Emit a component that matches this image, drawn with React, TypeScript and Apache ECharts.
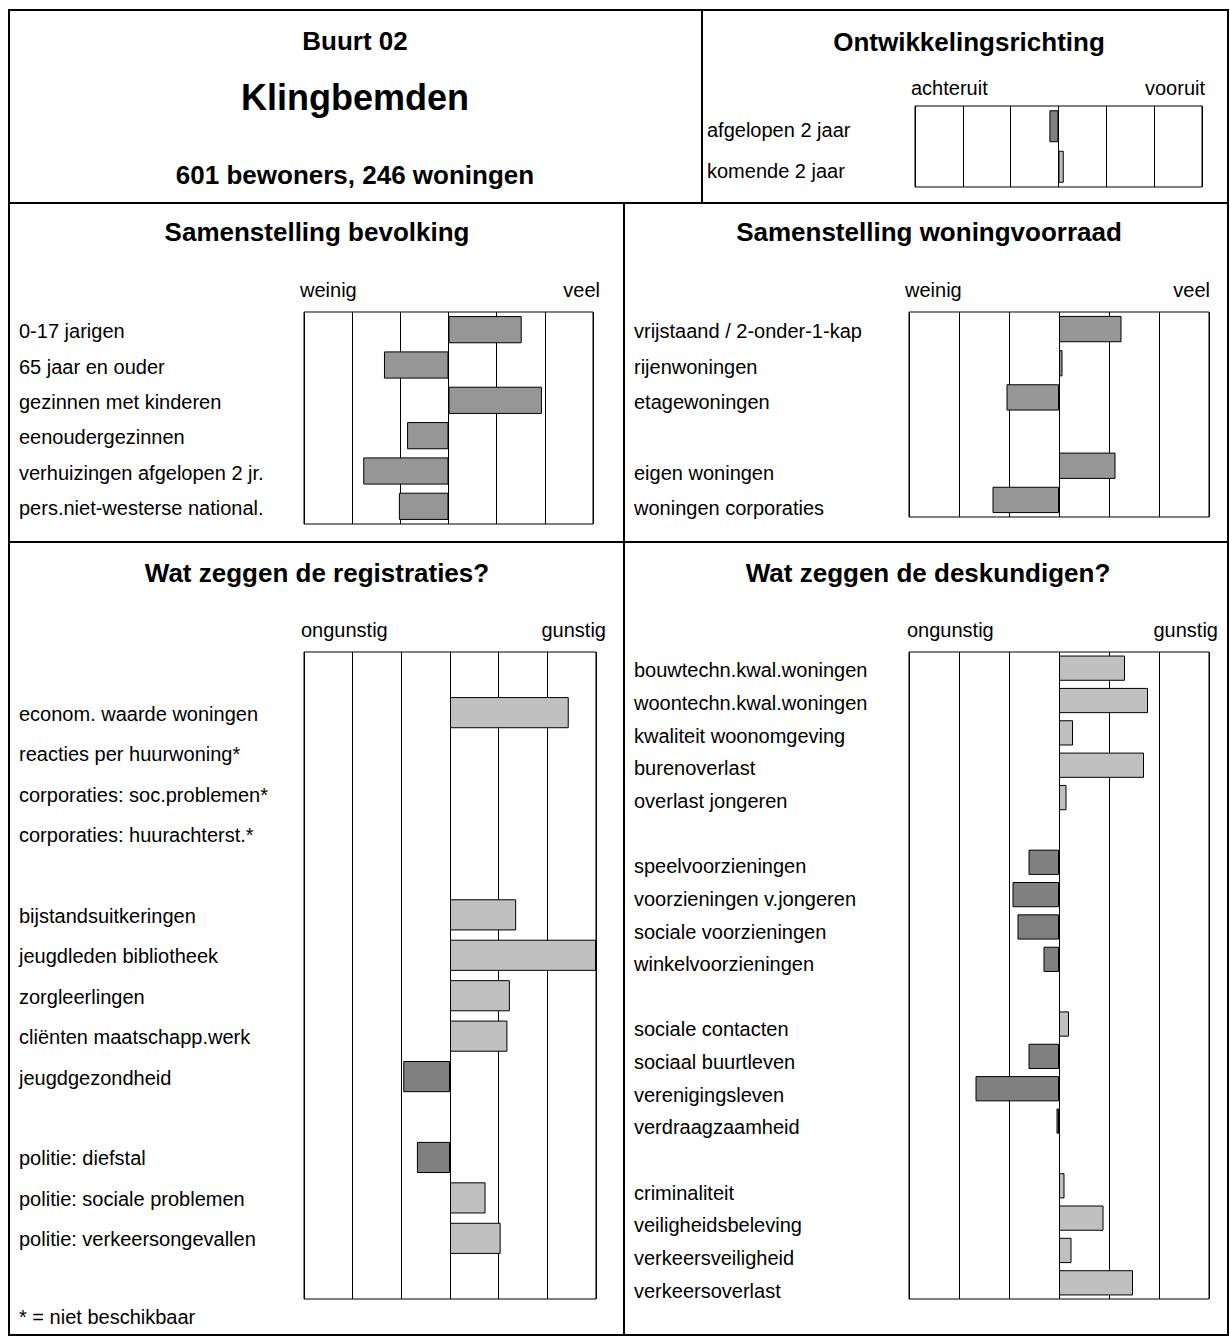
import React, { useEffect, useRef } from "react";
import * as echarts from "echarts";

// ---------- data ----------
const ontwCats = ["afgelopen 2 jaar", "komende 2 jaar"];
const ontwVals = [-0.19, 0.11];

const bevolkingCats = [
  "0-17 jarigen",
  "65 jaar en ouder",
  "gezinnen met kinderen",
  "eenoudergezinnen",
  "verhuizingen afgelopen 2 jr.",
  "pers.niet-westerse national.",
];
const bevolkingVals = [1.52, -1.34, 1.94, -0.86, -1.77, -1.03];

const woningCats = [
  "vrijstaand / 2-onder-1-kap",
  "rijenwoningen",
  "etagewoningen",
  " ",
  "eigen woningen",
  "woningen corporaties",
];
const woningVals = [1.25, 0.07, -1.05, null, 1.13, -1.33];

const registratieCats = [
  " ",
  "econom. waarde woningen",
  "reacties per huurwoning*",
  "corporaties: soc.problemen*",
  "corporaties: huurachterst.*",
  "  ",
  "bijstandsuitkeringen",
  "jeugdleden bibliotheek",
  "zorgleerlingen",
  "cliënten maatschapp.werk",
  "jeugdgezondheid",
  "   ",
  "politie: diefstal",
  "politie: sociale problemen",
  "politie: verkeersongevallen",
  "    ",
];
const registratieVals = [null, 2.44, null, null, null, null, 1.36, 3.0, 1.23, 1.18, -0.96, null, -0.68, 0.73, 1.04, null];

const deskundigenCats = [
  "bouwtechn.kwal.woningen",
  "woontechn.kwal.woningen",
  "kwaliteit woonomgeving",
  "burenoverlast",
  "overlast jongeren",
  " ",
  "speelvoorzieningen",
  "voorzieningen v.jongeren",
  "sociale voorzieningen",
  "winkelvoorzieningen",
  "  ",
  "sociale contacten",
  "sociaal buurtleven",
  "verenigingsleven",
  "verdraagzaamheid",
  "   ",
  "criminaliteit",
  "veiligheidsbeleving",
  "verkeersveiligheid",
  "verkeersoverlast",
];
const deskundigenVals = [1.32, 1.78, 0.28, 1.7, 0.15, null, -0.61, -0.93, -0.83, -0.31, null, 0.2, -0.61, -1.67, -0.05, null, 0.11, 0.89, 0.25, 1.48];

// ---------- styling ----------
const FONT = '"Liberation Sans", Arial, Helvetica, sans-serif';
const LIGHT = "#c0c0c0";
const DARK = "#808080";
const MID = "#969696";
const signColor = (v: number) => (v < 0 ? DARK : LIGHT);
const midColor = (_v: number) => MID;

type Box = { x0: number; y0: number; x1: number; y1: number };

function buildPanels() {
  const grid: any[] = [];
  const xAxis: any[] = [];
  const yAxis: any[] = [];
  const series: any[] = [];

  const addPanel = (
    box: Box,
    labY0: number,
    labY1: number,
    labelX: number,
    cats: string[],
    vals: (number | null)[],
    colorFn: (v: number) => string,
    barPct: string
  ) => {
    // bar grid
    const gi = grid.length;
    grid.push({
      left: box.x0,
      top: box.y0,
      width: box.x1 - box.x0,
      height: box.y1 - box.y0,
      show: true,
      borderColor: "#000",
      borderWidth: 1,
      backgroundColor: "transparent",
    });
    xAxis.push({
      gridIndex: gi,
      type: "value",
      min: -3,
      max: 3,
      interval: 1,
      axisLabel: { show: false },
      axisTick: { show: false },
      axisLine: { show: false },
      splitLine: { show: true, lineStyle: { color: "#000", width: 1 } },
    });
    yAxis.push({
      gridIndex: gi,
      type: "category",
      data: cats,
      inverse: true,
      axisLabel: { show: false },
      axisTick: { show: false },
      axisLine: { show: false },
      splitLine: { show: false },
    });
    series.push({
      type: "bar",
      xAxisIndex: xAxis.length - 1,
      yAxisIndex: yAxis.length - 1,
      barWidth: barPct,
      silent: true,
      itemStyle: { borderColor: "#000", borderWidth: 1 },
      data: vals.map((v) =>
        v == null ? "-" : { value: v, itemStyle: { color: colorFn(v) } }
      ),
    });
    // label grid
    const li = grid.length;
    grid.push({
      left: box.x0,
      top: labY0,
      width: box.x1 - box.x0,
      height: labY1 - labY0,
      show: false,
    });
    xAxis.push({ gridIndex: li, type: "value", min: -3, max: 3, show: false });
    yAxis.push({
      gridIndex: li,
      type: "category",
      data: cats,
      inverse: true,
      axisLine: { show: false },
      axisTick: { show: false },
      splitLine: { show: false },
      axisLabel: {
        show: true,
        interval: 0,
        align: "left",
        margin: box.x0 - labelX,
        fontSize: 20,
        fontFamily: FONT,
        color: "#000",
      },
    });
  };

  addPanel({ x0: 915, y0: 106, x1: 1202, y1: 187 }, 110, 191, 707, ontwCats, ontwVals, signColor, "79%");
  addPanel({ x0: 304, y0: 312, x1: 593, y1: 524 }, 313.5, 525.5, 19, bevolkingCats, bevolkingVals, midColor, "77%");
  addPanel({ x0: 909, y0: 312, x1: 1209, y1: 517 }, 313.5, 525.5, 634, woningCats, woningVals, midColor, "77%");
  addPanel({ x0: 304, y0: 652, x1: 596, y1: 1299 }, 653, 1300, 19, registratieCats, registratieVals, signColor, "77%");
  addPanel({ x0: 909, y0: 652, x1: 1209, y1: 1299 }, 654, 1307, 634, deskundigenCats, deskundigenVals, signColor, "78%");

  return { grid, xAxis, yAxis, series };
}

function txt(text: string, x: number, y: number, size: number, bold: boolean, align: string = "center") {
  return {
    type: "text",
    x,
    y,
    silent: true,
    style: {
      text,
      fill: "#000",
      fontSize: size,
      fontWeight: bold ? "bold" : "normal",
      fontFamily: FONT,
      textAlign: align,
      align,
      textVerticalAlign: "middle",
      verticalAlign: "middle",
    },
  };
}

function line(x1: number, y1: number, x2: number, y2: number) {
  return {
    type: "line",
    silent: true,
    shape: { x1, y1, x2, y2 },
    style: { stroke: "#000", lineWidth: 2 },
  };
}

export default function App() {
  const ref = useRef<HTMLDivElement>(null);

  useEffect(() => {
    if (!ref.current) return;
    const chart = echarts.init(ref.current, undefined, { renderer: "svg" });
    const { grid, xAxis, yAxis, series } = buildPanels();

    const graphic: any[] = [
      {
        type: "rect",
        silent: true,
        shape: { x: 9, y: 10, width: 1219, height: 1325 },
        style: { fill: "none", stroke: "#000", lineWidth: 2 },
      },
      line(9, 203, 1228, 203),
      line(9, 542, 1228, 542),
      line(702, 10, 702, 203),
      line(624, 203, 624, 1335),
      // header
      txt("Buurt 02", 355, 41, 26, true),
      txt("Klingbemden", 355, 97, 36, true),
      txt("601 bewoners, 246 woningen", 355, 175, 26, true),
      txt("Ontwikkelingsrichting", 969, 42, 26, true),
      txt("achteruit", 911, 88, 20, false, "left"),
      txt("vooruit", 1205, 88, 20, false, "right"),
      // middle
      txt("Samenstelling bevolking", 317, 232, 26, true),
      txt("Samenstelling woningvoorraad", 929, 232, 26, true),
      txt("weinig", 300, 290, 20, false, "left"),
      txt("veel", 600, 290, 20, false, "right"),
      txt("weinig", 905, 290, 20, false, "left"),
      txt("veel", 1210, 290, 20, false, "right"),
      // bottom
      txt("Wat zeggen de registraties?", 317, 573, 26, true),
      txt("Wat zeggen de deskundigen?", 928, 573, 26, true),
      txt("ongunstig", 301, 630, 20, false, "left"),
      txt("gunstig", 606, 630, 20, false, "right"),
      txt("ongunstig", 907, 630, 20, false, "left"),
      txt("gunstig", 1218, 630, 20, false, "right"),
      txt("* = niet beschikbaar", 19, 1317, 20, false, "left"),
    ];

    chart.setOption({
      animation: false,
      backgroundColor: "#fff",
      textStyle: { fontFamily: FONT },
      grid,
      xAxis,
      yAxis,
      series,
      graphic,
    });
    return () => chart.dispose();
  }, []);

  return (
    <div
      ref={ref}
      style={{ position: "absolute", left: 0, top: 0, width: 1230, height: 1336, background: "#fff" }}
    />
  );
}
